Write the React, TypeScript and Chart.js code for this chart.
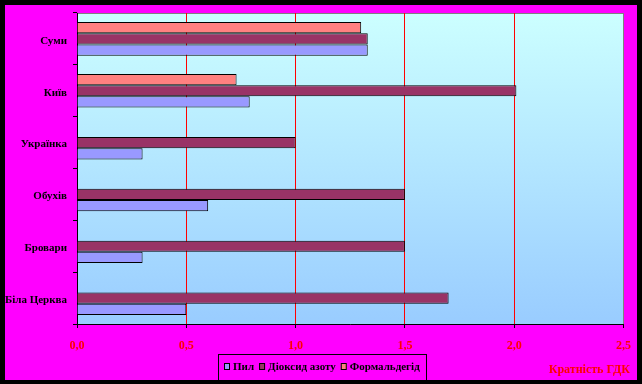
import React, { useEffect, useRef } from 'react';
import { Chart, registerables } from 'chart.js';

Chart.register(...registerables);

const categories = ['Суми', 'Київ', 'Українка', 'Обухів', 'Бровари', 'Біла Церква'];
const dustValues = [1.33, 0.79, 0.3, 0.6, 0.3, 0.5];
const no2Values = [1.33, 2.01, 1.0, 1.5, 1.5, 1.7];
const formaldehydeValues: (number | null)[] = [1.3, 0.73, null, null, null, null];
const seriesLabels = ['Пил', 'Діоксид азоту', 'Формальдегід'];
const seriesColors = ['#9999ff', '#993366', '#ff8080'];
const axisTitle = 'Кратність ГДК';
const xMin = 0;
const xMax = 2.5;
const xStep = 0.5;

const FONT = '"Liberation Serif", "Times New Roman", serif';

const framePlugin = {
  id: 'frame',
  beforeDraw(chart: any) {
    const { ctx, width, height, chartArea } = chart;
    ctx.save();
    ctx.fillStyle = '#000000';
    ctx.fillRect(0, 0, width, height);
    ctx.fillStyle = '#ff00ff';
    ctx.fillRect(5, 5, 632, 375);
    const g = ctx.createLinearGradient(0, chartArea.top, 0, chartArea.bottom);
    g.addColorStop(0, '#ccffff');
    g.addColorStop(1, '#99ccff');
    ctx.fillStyle = g;
    ctx.fillRect(chartArea.left, chartArea.top, chartArea.right - chartArea.left, chartArea.bottom - chartArea.top);
    ctx.strokeStyle = '#808080';
    ctx.lineWidth = 1;
    ctx.strokeRect(chartArea.left + 0.5, chartArea.top + 0.5, chartArea.right - chartArea.left - 0.5, chartArea.bottom - chartArea.top);
    ctx.restore();
  },
};

const legendPlugin = {
  id: 'boxLegend',
  afterDraw(chart: any) {
    const { ctx } = chart;
    ctx.save();
    ctx.font = `bold 11px ${FONT}`;
    ctx.textBaseline = 'middle';
    const boxW = 6;
    const gapBox = 3;
    const gapItem = 5;
    const widths = seriesLabels.map((l) => ctx.measureText(l).width);
    const total = widths.reduce((a, b) => a + b, 0) + seriesLabels.length * (boxW + gapBox) + (seriesLabels.length - 1) * gapItem;
    const cx = 322;
    let x = Math.round(cx - total / 2);
    const left = 218, right = 426, top = 354, bottom = 381;
    ctx.strokeStyle = '#000';
    ctx.lineWidth = 1;
    ctx.strokeRect(left + 0.5, top + 0.5, right - left, bottom - top);
    const yMid = 367;
    seriesLabels.forEach((label, i) => {
      ctx.fillStyle = seriesColors[i];
      ctx.fillRect(x, yMid - 4, boxW, boxW + 1);
      ctx.strokeStyle = '#000';
      ctx.strokeRect(x + 0.5, yMid - 4 + 0.5, boxW - 1, boxW);
      x += boxW + gapBox;
      ctx.fillStyle = '#000';
      ctx.fillText(label, x, yMid);
      x += widths[i] + gapItem;
    });
    // axis title, bottom right
    ctx.font = `bold 12px ${FONT}`;
    ctx.fillStyle = '#ff0000';
    ctx.textAlign = 'right';
    ctx.textBaseline = 'alphabetic';
    ctx.fillText(axisTitle, 630, 373);
    ctx.restore();
  },
};

export default function App() {
  const ref = useRef<HTMLCanvasElement | null>(null);
  useEffect(() => {
    document.body.style.margin = '0';
    const canvas = ref.current;
    if (!canvas) return;
    const chart = new Chart(canvas, {
      type: 'bar',
      data: {
        labels: categories,
        datasets: [
          {
            label: seriesLabels[2],
            data: formaldehydeValues,
            backgroundColor: seriesColors[2],
            borderColor: '#000',
            borderWidth: 1,
          },
          {
            label: seriesLabels[1],
            data: no2Values,
            backgroundColor: seriesColors[1],
            borderColor: '#000',
            borderWidth: 1,
          },
          {
            label: seriesLabels[0],
            data: dustValues,
            backgroundColor: seriesColors[0],
            borderColor: '#000',
            borderWidth: 1,
          },
        ],
      },
      options: {
        indexAxis: 'y',
        responsive: false,
        animation: false,
        devicePixelRatio: 1,
        layout: { padding: { left: 0, top: 13, right: 14, bottom: 0 } },
        datasets: { bar: { categoryPercentage: 0.65, barPercentage: 1 } },
        plugins: {
          legend: { display: false },
          tooltip: { enabled: false },
        },
        scales: {
          x: {
            min: xMin,
            max: xMax,
            ticks: {
              stepSize: xStep,
              color: '#ff0000',
              font: { family: FONT, size: 12, weight: 'bold' },
              padding: 11,
              callback: (v: any) => Number(v).toFixed(1).replace('.', ','),
            },
            grid: {
              color: (c: any) => (c.index === 0 ? 'rgba(0,0,0,0)' : c.index === 5 ? '#808080' : '#ff0000'),
              tickColor: '#000',
              tickLength: 4,
              lineWidth: 1,
            },
            border: { display: true, color: '#000', width: 1 },
            afterFit: (s: any) => {
              s.height = 60;
            },
          },
          y: {
            ticks: {
              color: '#000',
              font: { family: FONT, size: 11, weight: 'bold' },
              padding: 6,
              labelOffset: 2,
            },
            grid: {
              offset: true,
              drawOnChartArea: false,
              tickLength: 4,
              color: '#000',
            },
            border: { display: true, color: '#000', width: 1 },
            afterFit: (s: any) => {
              s.width = 77;
            },
          },
        },
      },
      plugins: [framePlugin, legendPlugin],
    });
    return () => chart.destroy();
  }, []);
  return <canvas ref={ref} width={642} height={384} style={{ display: 'block' }} />;
}
